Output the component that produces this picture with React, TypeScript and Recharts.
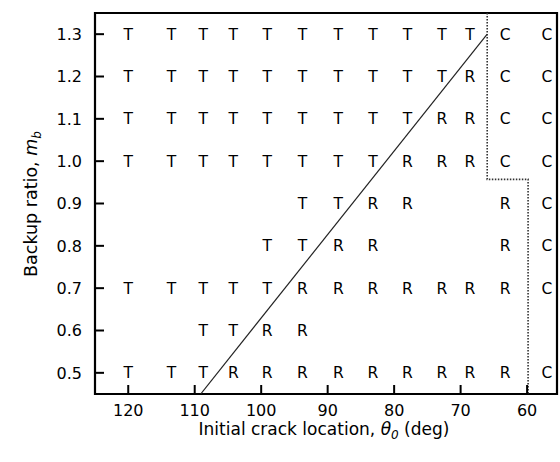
import {
  ComposedChart,
  Scatter,
  Line,
  XAxis,
  YAxis,
  ReferenceArea,
} from "recharts";

// crack angle of each column of runs (deg)
const thetaColumns = [120, 113.5, 108.7, 104.2, 99.1, 93.8, 88.4, 83.2, 78.0, 72.8, 68.6, 63.3, 57.0];
const backupRatios = [1.3, 1.2, 1.1, 1.0, 0.9, 0.8, 0.7, 0.6, 0.5];
// one string per backup ratio, one char per column; "." = no run
const failureModes = [
  "TTTTTTTTTTTCC",
  "TTTTTTTTTTRCC",
  "TTTTTTTTTRRCC",
  "TTTTTTTTRRRCC",
  ".....TTRR..RC",
  "....TTRR...RC",
  "TTTTTRRRRRRRC",
  "..TTRR.......",
  "TTTRRRRRRRRRC",
];

const thetaTicks = [120, 110, 100, 90, 80, 70, 60];
const mbTicks = [0.5, 0.6, 0.7, 0.8, 0.9, 1.0, 1.1, 1.2, 1.3];

const diagonalLine = [
  { theta: 109.1, mb: 0.45 },
  { theta: 66.0, mb: 1.3 },
];
const dottedBoundary = [
  { theta: 66.0, mb: 1.35 },
  { theta: 66.0, mb: 0.957 },
  { theta: 59.85, mb: 0.957 },
  { theta: 59.85, mb: 0.45 },
];

const FONT = "'DejaVu Sans', sans-serif";

const points = failureModes.flatMap((row, i) =>
  row.split("").map((mode, j) => ({ theta: thetaColumns[j], mb: backupRatios[i], mode }))
);
const byMode = (m: string) => points.filter((p) => p.mode === m);

function XTick({ x, y, payload }: any) {
  return (
    <g>
      <line x1={x} x2={x} y1={y} y2={y - 9} stroke="#000" strokeWidth={2} />
      <text x={x} y={y + 22} textAnchor="middle" fontFamily={FONT} fontSize={16} fill="#000">
        {payload.value}
      </text>
    </g>
  );
}

function YTick({ x, y, payload }: any) {
  return (
    <g>
      <line x1={x} x2={x + 9} y1={y} y2={y} stroke="#000" strokeWidth={2} />
      <text x={x - 13} y={y} dy="0.36em" textAnchor="end" fontFamily={FONT} fontSize={16} fill="#000">
        {Number(payload.value).toFixed(1)}
      </text>
    </g>
  );
}

function Letter({ cx, cy, payload }: any) {
  return (
    <text x={cx} y={cy} dy="0.36em" textAnchor="middle" fontFamily={FONT} fontSize={15.5} fill="#000">
      {payload.mode}
    </text>
  );
}

const xLabel = () => (
  <text x={324} y={435} textAnchor="middle" fontFamily={FONT} fontSize={17} fill="#000">
    Initial crack location,{" "}
    <tspan fontStyle="italic">θ</tspan>
    <tspan fontStyle="italic" fontSize={12} dy={4}>0</tspan>
    <tspan dy={-4}> (deg)</tspan>
  </text>
);

const yLabel = () => (
  <text
    x={0}
    y={0}
    transform="translate(37 204) rotate(-90)"
    textAnchor="middle"
    fontFamily={FONT}
    fontSize={17.5}
    fill="#000"
  >
    Backup ratio, <tspan fontStyle="italic">m</tspan>
    <tspan fontStyle="italic" fontSize={12} dy={4}>b</tspan>
  </text>
);

export default function App() {
  return (
    <div style={{ position: "absolute", left: 0, top: 0, width: 560, height: 462, background: "#fff" }}>
      <ComposedChart width={560} height={462} margin={{ top: 13, right: 3, bottom: 0, left: 0 }}>
        <XAxis
          type="number"
          dataKey="theta"
          domain={[55.5, 125]}
          reversed
          allowDataOverflow
          ticks={thetaTicks}
          tick={<XTick />}
          tickLine={false}
          axisLine={false}
          tickSize={0}
          tickMargin={0}
          height={68}
          label={{ content: xLabel }}
        />
        <YAxis
          type="number"
          dataKey="mb"
          domain={[0.45, 1.35]}
          allowDataOverflow
          ticks={mbTicks}
          tick={<YTick />}
          tickLine={false}
          axisLine={false}
          tickSize={0}
          tickMargin={0}
          width={95}
          label={{ content: yLabel }}
        />
        <Line
          data={diagonalLine}
          dataKey="mb"
          stroke="#222"
          strokeWidth={1.2}
          dot={false}
          isAnimationActive={false}
        />
        <Line
          data={dottedBoundary}
          dataKey="mb"
          stroke="#333"
          strokeWidth={1.6}
          strokeDasharray="1.5 1.5"
          dot={false}
          isAnimationActive={false}
        />
        <Scatter data={byMode("T")} shape={Letter} isAnimationActive={false} />
        <Scatter data={byMode("R")} shape={Letter} isAnimationActive={false} />
        <Scatter data={byMode("C")} shape={Letter} isAnimationActive={false} />
        <ReferenceArea x1={125} x2={55.5} y1={0.45} y2={1.35} fill="none" stroke="#000" strokeWidth={2.2} />
      </ComposedChart>
    </div>
  );
}
